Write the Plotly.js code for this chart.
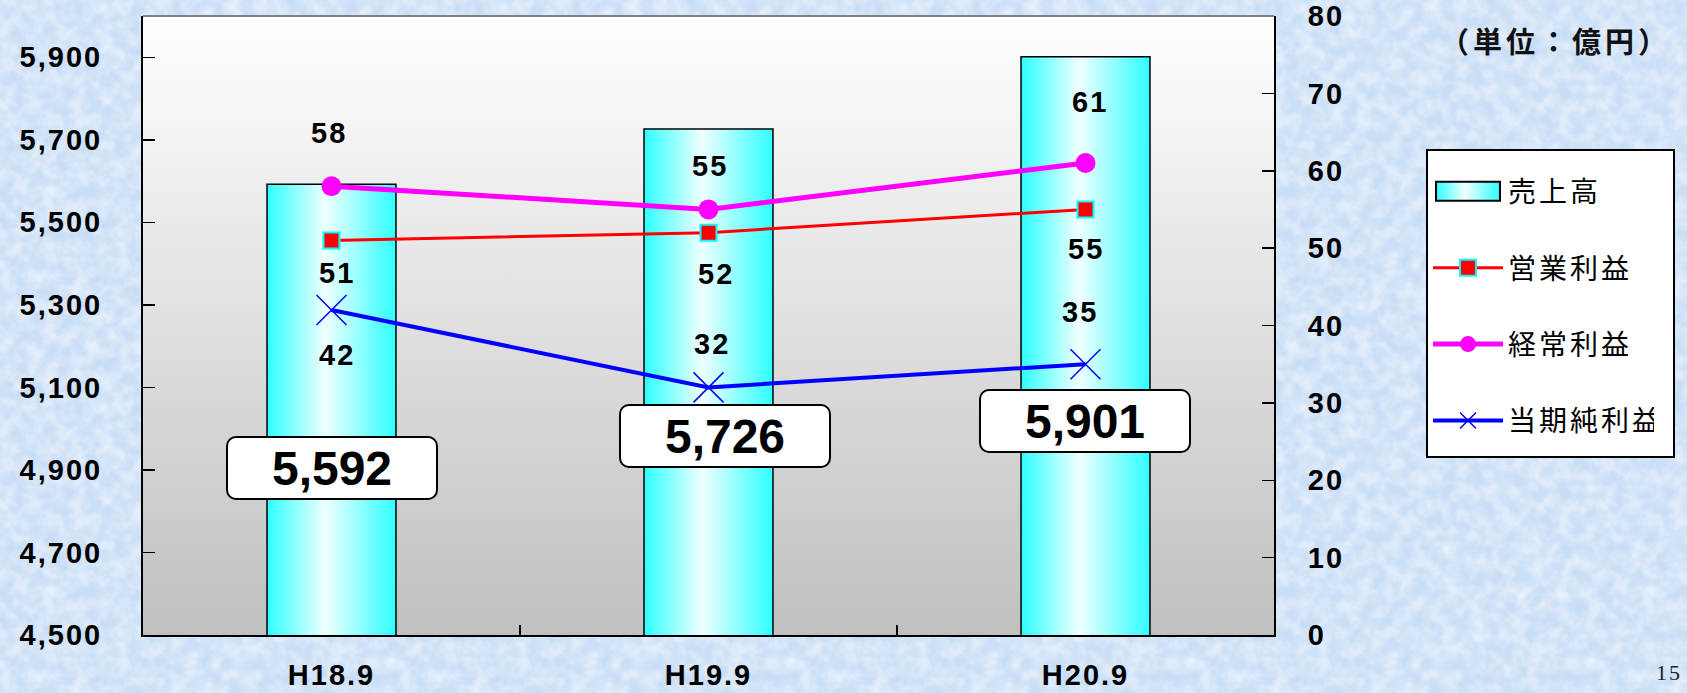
<!DOCTYPE html>
<html>
<head>
<meta charset="utf-8">
<script src="https://cdn.plot.ly/plotly-3.0.1.min.js"></script>
<style>
html,body{margin:0;padding:0;}
body{background-color:#c8ddf6;
  background-image:url("data:image/svg+xml;utf8,<svg xmlns='http://www.w3.org/2000/svg' width='400' height='400'><filter id='n' x='0' y='0' width='100%25' height='100%25'><feTurbulence type='fractalNoise' baseFrequency='0.07' numOctaves='4' seed='7' stitchTiles='stitch'/><feColorMatrix values='0 0 0 0 1  0 0 0 0 1  0 0 0 0 1  1.0 0 0 0 -0.28'/></filter><rect width='400' height='400' filter='url(%23n)'/></svg>");}
#chart{width:1687px;height:693px;}
.xtick text, .ytick text, .y2tick text { letter-spacing: 2px; }
.legend .legendtext { letter-spacing: 3px; }
</style>
</head>
<body>
<div id="chart"></div>
<script>
// ---- data ----
const categories = ['H18.9', 'H19.9', 'H20.9'];
const sales = [5592, 5726, 5901];           // 売上高
const operatingProfit = [51, 52, 55];       // 営業利益
const ordinaryProfit = [58, 55, 61];        // 経常利益
const netProfit = [42, 32, 35];             // 当期純利益
const salesLabels = ['5,592', '5,726', '5,901'];
const leftTicks = [4500, 4700, 4900, 5100, 5300, 5500, 5700, 5900];
const rightTicks = [0, 10, 20, 30, 40, 50, 60, 70, 80];

// ---- styles / label placement ----
const BAR_KEY = 'rgb(51, 255, 254)';
const BG_KEY = 'rgb(1, 2, 3)';
const numFont = {family: 'Liberation Sans, Arial, sans-serif', size: 29, color: '#000', weight: 'bold'};
const jpFont = 'Noto Sans CJK JP, sans-serif';

const traces = [
  {type: 'bar', name: '売上高', x: categories, y: sales, width: 0.342,
   marker: {color: BAR_KEY, line: {color: '#000', width: 1.5}},
   legendgroup: 'a', hoverinfo: 'skip'},
  {type: 'scatter', mode: 'lines+markers', name: '営業利益', x: categories, y: operatingProfit, yaxis: 'y2',
   line: {color: '#ff0000', width: 3},
   marker: {symbol: 'square', size: 16, color: '#ff0000', line: {color: '#00ffff', width: 2}},
   legendgroup: 'b'},
  {type: 'scatter', mode: 'lines+markers', name: '経常利益', x: categories, y: ordinaryProfit, yaxis: 'y2',
   line: {color: '#ff00ff', width: 5},
   marker: {symbol: 'circle', size: 20, color: '#ff00ff'},
   legendgroup: 'c'},
  {type: 'scatter', mode: 'lines+markers', name: '当期純利益', x: categories, y: netProfit, yaxis: 'y2',
   line: {color: '#0000ff', width: 4},
   marker: {symbol: 'x-thin-open', size: 30, color: '#0000ff', line: {color: '#0000ff', width: 1.5}},
   legendgroup: 'd'}
];

const annotations = [];
// line value labels: [series, yshift list, xshift list]
const labelSets = [
  [ordinaryProfit, [53, 43, 61], [-3, 1, 4]],
  [operatingProfit, [-33, -41, -40], [5, 7, 0]],
  [netProfit, [-45, 43, 52], [5, 3, -6]]
];
labelSets.forEach(([vals, ys, xs]) => {
  vals.forEach((v, i) => {
    annotations.push({x: categories[i], y: v, xref: 'x', yref: 'y2', text: String(v),
      showarrow: false, yshift: ys[i], xshift: xs[i], font: numFont});
  });
});
// sales boxes
const boxY = [0.218, 0.270, 0.346];
const boxXShift = [0, 16, -1];
sales.forEach((v, i) => {
  annotations.push({x: categories[i], y: boxY[i], xref: 'x', yref: 'paper', text: salesLabels[i],
    showarrow: false, xshift: boxXShift[i], bgcolor: '#ffffff', bordercolor: '#000', borderwidth: 2,
    borderpad: 2, width: 204, height: 56, valign: 'middle',
    font: {family: 'Liberation Sans, Arial, sans-serif', size: 48, color: '#000', weight: 'bold'}});
});
// unit label
const UNIT = '（単位：億円）';
annotations.push({xref: 'paper', yref: 'paper', x: 1.2485, y: 0.961, xanchor: 'center', yanchor: 'middle',
  text: UNIT, showarrow: false, font: {family: jpFont, size: 29, color: '#111', weight: 'bold'}});
// page number
annotations.push({xref: 'paper', yref: 'paper', x: 1.3607, y: -0.0598, xanchor: 'right', yanchor: 'middle',
  text: '15', showarrow: false, font: {family: 'Liberation Serif, serif', size: 22, color: '#222'}});

const layout = {
  width: 1687, height: 693,
  margin: {l: 143, r: 413, t: 16, b: 58},
  paper_bgcolor: 'rgba(0,0,0,0)',
  plot_bgcolor: BG_KEY,
  showlegend: true,
  barmode: 'overlay',
  xaxis: {type: 'category', range: [-0.5, 2.5], ticks: 'inside', tickson: 'boundaries', ticklen: 10,
    tickwidth: 1.5, tickcolor: '#000', showline: true, linecolor: '#000', linewidth: 2,
    showgrid: false, zeroline: false, tickfont: numFont, ticklabelstandoff: 13, fixedrange: true},
  yaxis: {range: [4500, 6000], tickvals: leftTicks, tickformat: ',', ticks: 'inside', ticklen: 12,
    tickwidth: 1.5, tickcolor: '#000', showline: true, linecolor: '#000', linewidth: 2,
    showgrid: false, zeroline: false, tickfont: numFont, ticklabelstandoff: 33, fixedrange: true},
  yaxis2: {range: [0, 80], tickvals: rightTicks, overlaying: 'y', side: 'right', ticks: 'inside', ticklen: 12,
    tickwidth: 1.5, tickcolor: '#000', showline: true, linecolor: '#000', linewidth: 2,
    showgrid: false, zeroline: false, tickfont: numFont, ticklabelstandoff: 26, fixedrange: true},
  legend: {xref: 'container', yref: 'container', x: 0.8453, y: 0.785, xanchor: 'left', yanchor: 'top',
    bgcolor: '#ffffff', bordercolor: '#000', borderwidth: 2, traceorder: 'grouped', tracegroupgap: 37,
    itemwidth: 70, font: {family: jpFont, size: 28, color: '#000'},
    title: {text: ' ', font: {size: 12}}},
  shapes: [{type: 'line', xref: 'paper', yref: 'paper', x0: 0, x1: 1, y0: 1, y1: 1,
    line: {color: '#808080', width: 2}}],
  annotations: annotations
};

Plotly.newPlot('chart', traces, layout, {displayModeBar: false, staticPlot: true}).then(gd => {
  const svg = gd.querySelector('svg.main-svg');
  let defs = svg.querySelector('defs');
  const NS = 'http://www.w3.org/2000/svg';
  function grad(id, x2, y2, stops) {
    const g = document.createElementNS(NS, 'linearGradient');
    g.setAttribute('id', id);
    g.setAttribute('x1', '0'); g.setAttribute('y1', '0');
    g.setAttribute('x2', x2); g.setAttribute('y2', y2);
    stops.forEach(([o, c]) => {
      const s = document.createElementNS(NS, 'stop');
      s.setAttribute('offset', o); s.setAttribute('stop-color', c);
      g.appendChild(s);
    });
    defs.appendChild(g);
  }
  grad('barGrad', '1', '0', [['0', '#2effff'], ['0.45', '#f0ffff'], ['1', '#2effff']]);
  grad('plotGrad', '0', '1', [['0', '#ffffff'], ['1', '#c0c0c0']]);
  gd.querySelectorAll('path, rect').forEach(el => {
    const f = el.style.fill;
    if (f === BAR_KEY) {
      el.style.fill = 'url(#barGrad)';
      if (el.closest('.legend')) {
        el.setAttribute('d', 'M-32,-9.5h64v19h-64Z');
        el.style.stroke = '#000';
        el.style.strokeWidth = '2px';
      }
    }
    if (f === BG_KEY) el.style.fill = 'url(#plotGrad)';
  });
  gd.querySelectorAll('.annotation-text-g rect.bg').forEach(r => {
    r.setAttribute('rx', '9'); r.setAttribute('ry', '9');
  });
  gd.querySelectorAll('.annotation text.annotation-text').forEach(t => {
    if (/^\d{2}$/.test(t.textContent)) t.style.letterSpacing = '2px';
    if (t.textContent === UNIT) t.style.letterSpacing = '4px';
  });
  // legend frame size to fit spaced text
  const lbg = gd.querySelector('.legend rect.bg');
  if (lbg) { lbg.setAttribute('width', '247'); lbg.setAttribute('height', '307'); }
});
</script>
</body>
</html>
